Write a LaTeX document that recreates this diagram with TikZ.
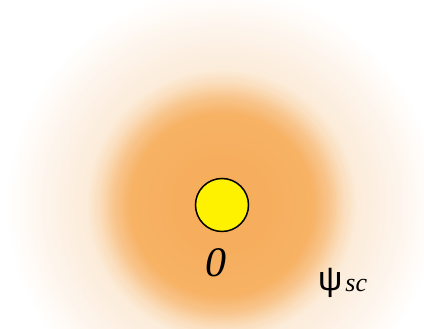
\documentclass[tikz,border=0pt]{standalone}
\usepackage{fontspec}
\setmainfont{Liberation Serif}
\newfontfamily\greekfont{Liberation Sans}
\usepackage{xcolor}
\definecolor{core}{HTML}{FFF200}
\definecolor{glowA}{RGB}{245,170,88}
\definecolor{glowB}{RGB}{247,178,100}
\definecolor{glowC}{RGB}{248,194,134}
\definecolor{glowD}{RGB}{251,225,195}
\definecolor{glowE}{RGB}{252,236,218}
\definecolor{glowF}{RGB}{253,243,233}
\definecolor{glowG}{RGB}{255,251,247}
\usetikzlibrary{positioning}
\tikzset{
  dot/.style={circle,draw=black,line width=1.5pt,fill=core,minimum size=53pt,inner sep=0pt},
  lbl/.style={inner sep=0pt,font=\fontsize{42}{42}\selectfont\itshape},
}

\begin{document}
\begin{tikzpicture}[x=1pt,y=1pt]
\useasboundingbox (0,0) rectangle (424,329);
\coordinate (mid) at (222,124);
% halo: rings from the outside in, each segment blends two colours
\begin{scope}
\clip (0,0) rectangle (424,329);
\foreach \ra/\rb/\ca/\cb in {215/200/white/glowG,200/170/glowG/glowF,170/135/glowF/glowE,
    135/125/glowE/glowD,125/105/glowD/glowC,105/90/glowC/glowB,90/0/glowB/glowA}{
  \foreach \i in {0,...,15}{
    \pgfmathsetmacro\rr{\ra+(\rb-\ra)*\i/16}
    \pgfmathsetmacro\pp{100*\i/15}
    \fill[\cb!\pp!\ca] (mid) circle (\rr);
  }
}
\end{scope}
\node[dot] (nucleus) at (mid) {};
\node[lbl,below=16pt of nucleus,xshift=-6pt] (zero) {0};
\node[inner sep=0pt,anchor=base west] (psi) at (318,38)
  {{\greekfont\fontsize{34}{34}\selectfont ψ}\kern3pt\raisebox{-1pt}{\fontsize{26}{26}\selectfont\itshape sc}};
\end{tikzpicture}
\end{document}
